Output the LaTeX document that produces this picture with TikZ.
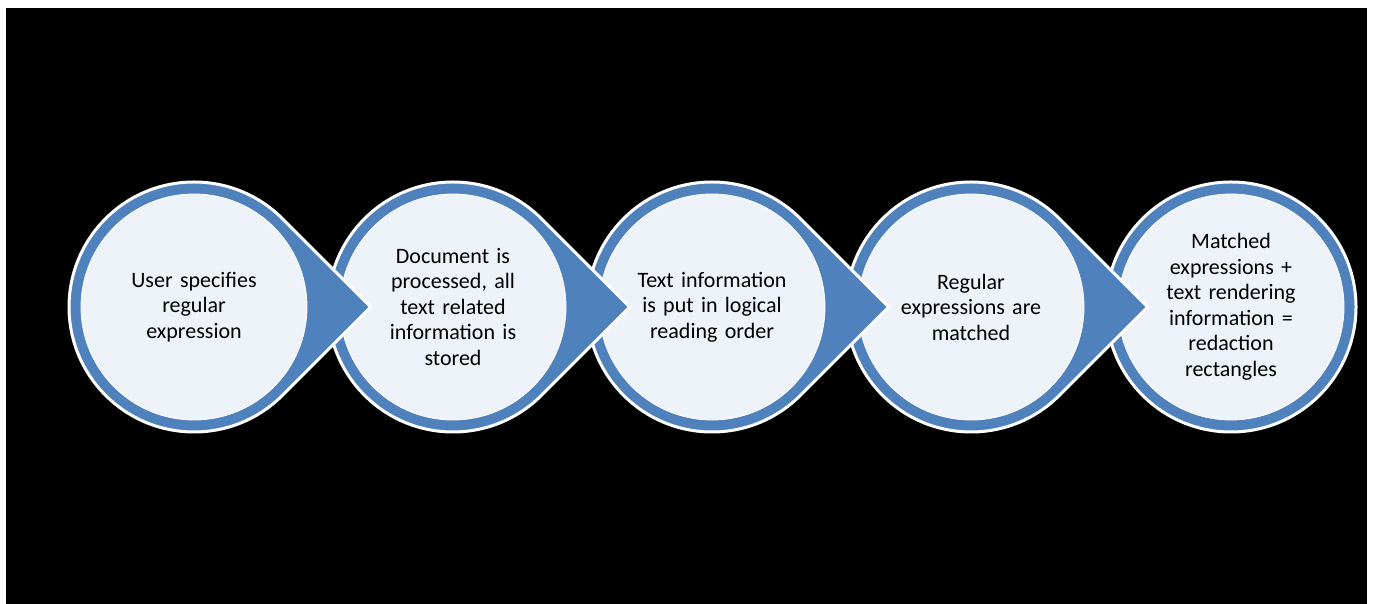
\documentclass[tikz,border=0pt]{standalone}
\usepackage{fontspec}
\setmainfont{Carlito}
\definecolor{ringblue}{HTML}{4F81BD}
\definecolor{paleblue}{HTML}{EEF2F9}
\tikzset{
  stepbody/.style={fill=ringblue, draw=white, line width=3pt, line join=miter},
  steptext/.style={circle, minimum size=226pt, inner sep=0pt, fill=paleblue,
    draw=white, line width=0.8pt, text=black, align=center, text width=170pt,
    font=\fontsize{22}{25.5}\selectfont},
}
% teardrop: circle of radius 125pt with a right-angled point to the right
\newcommand{\teardrop}[1]{%
  \path[stepbody] (#1) ++(45:125) arc[start angle=45, end angle=315, radius=125]
    -- ++(88.39,88.39) -- cycle;}
\begin{document}
\begin{tikzpicture}[x=1pt,y=1pt]
  \useasboundingbox (0,0) rectangle (1375,604);
  \fill[white] (0,0) rectangle (1375,604);
  \fill[black] (6,0) rectangle (1367,596);
  % drawn right to left so each point lies over the following circle
  \coordinate (c5) at (1231,297);
  \coordinate (c4) at (971,297);
  \coordinate (c3) at (712,297);
  \coordinate (c2) at (453,297);
  \coordinate (c1) at (194,297);
  % the last step is a plain ring
  \path[stepbody] (c5) circle[radius=125];
  \node[steptext] (s5) at (c5) {Matched\\expressions +\\text rendering\\information =\\redaction\\rectangles};
  \teardrop{c4}
  \node[steptext] (s4) at (c4) {Regular\\expressions are\\matched};
  \teardrop{c3}
  \node[steptext] (s3) at (c3) {Text information\\is put in logical\\reading order};
  \teardrop{c2}
  \node[steptext] (s2) at (c2) {Document is\\processed, all\\text related\\information is\\stored};
  \teardrop{c1}
  \node[steptext] (s1) at (c1) {User specifies\\regular\\expression};
\end{tikzpicture}
\end{document}
